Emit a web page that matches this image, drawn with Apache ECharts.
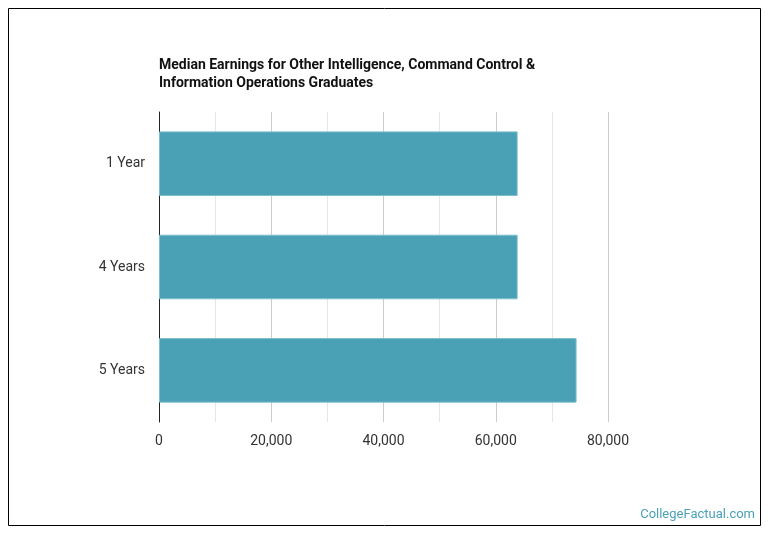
<!DOCTYPE html>
<html>
<head>
<meta charset="utf-8">
<script src="https://cdn.jsdelivr.net/npm/echarts@6/dist/echarts.min.js"></script>
<style>
  html, body { margin: 0; padding: 0; background: #fff; }
  #chart { width: 770px; height: 536px; }
</style>
</head>
<body>
<div id="chart"></div>
<script>
const categories = ['1 Year', '4 Years', '5 Years'];
const earnings = [63900, 63900, 74400];
const tickLabels = ['0', '20,000', '40,000', '60,000', '80,000'];

var chart = echarts.init(document.getElementById('chart'));

var option = {
    animation: false,
    title: {
        text: 'Median Earnings for Other Intelligence, Command Control &\nInformation Operations Graduates',
        left: 159,
        top: 56,
        padding: 0,
        textStyle: {
            fontFamily: 'Roboto',
            fontSize: 14,
            fontWeight: 'bold',
            color: '#111',
            lineHeight: 18
        }
    },
    graphic: [
        {
            type: 'rect',
            z: 100,
            shape: { x: 8.5, y: 8.5, width: 752, height: 517 },
            style: { fill: 'none', stroke: '#000', lineWidth: 1 },
            silent: true
        },
        {
            type: 'text',
            right: 15,
            bottom: 15,
            style: {
                text: 'CollegeFactual.com',
                fontFamily: 'Roboto',
                fontSize: 13,
                fill: '#4aa0b4'
            }
        }
    ],
    grid: {
        left: 159,
        right: 162,
        top: 112,
        bottom: 114,
        containLabel: false
    },
    xAxis: {
        type: 'value',
        min: 0,
        max: 80000,
        interval: 20000,
        axisLine: { show: false },
        axisTick: { show: false },
        axisLabel: {
            margin: 12,
            fontFamily: 'Roboto',
            fontSize: 14,
            color: '#333',
            formatter: function (v) {
                return tickLabels[Math.round(v / 20000)];
            }
        },
        splitLine: { show: true, lineStyle: { color: '#ccc', width: 1 } },
        minorTick: { show: false, splitNumber: 2 },
        minorSplitLine: { show: true, lineStyle: { color: '#e6e6e6', width: 1 } }
    },
    yAxis: {
        type: 'category',
        data: categories,
        inverse: true,
        axisLine: { show: true, lineStyle: { color: '#222', width: 1 } },
        axisTick: { show: false },
        axisLabel: {
            margin: 14,
            fontFamily: 'Roboto',
            fontSize: 14,
            color: '#333'
        }
    },
    series: [
        {
            type: 'bar',
            data: earnings,
            barWidth: '62.5%',
            itemStyle: {
                color: '#4aa0b4',
                borderColor: '#7cbfcd',
                borderWidth: 1
            }
        }
    ]
};

chart.setOption(option);
</script>
</body>
</html>
